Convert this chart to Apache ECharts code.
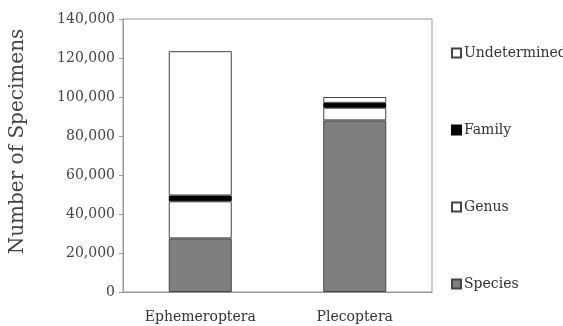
<!DOCTYPE html>
<html>
<head>
<meta charset="utf-8">
<script src="https://cdn.jsdelivr.net/npm/echarts@6/dist/echarts.min.js"></script>
<style>html,body{margin:0;padding:0;background:#fff;}#c{width:563px;height:326px;}</style>
</head>
<body>
<div id="c"></div>
<script>
const categories = ['Ephemeroptera', 'Plecoptera'];
const species = [27500, 88000];
const genus = [19000, 6500];
const family = [3000, 2500];
const undetermined = [74000, 3000];
const legendOrder = ['Undetermined', 'Family', 'Genus', 'Species'];

const FONT = 'DejaVu Serif';
const chart = echarts.init(document.getElementById('c'), null, {renderer: 'canvas'});
function bar(name, data, color, border) {
  return {
    name: name, type: 'bar', stack: 'total', data: data, barWidth: 63,
    itemStyle: {color: color, borderColor: border, borderWidth: 1},
    emphasis: {disabled: true}
  };
}
chart.setOption({
  animation: false,
  backgroundColor: '#fff',
  grid: {left: 123, right: 131, top: 19, bottom: 34, show: true, borderColor: '#999', borderWidth: 1,
    containLabel: false, outerBoundsMode: 'none'},
  legend: {
    orient: 'vertical', left: 446, top: 41, itemGap: 63,
    itemWidth: 9, itemHeight: 9, icon: 'rect',
    data: legendOrder,
    textStyle: {fontFamily: FONT, fontSize: 14, color: '#333', lineHeight: 14, padding: [0,0,0,-2]}
  },
  xAxis: {
    type: 'category', data: categories,
    axisLine: {lineStyle: {color: '#999'}},
    axisTick: {show: false},
    axisLabel: {fontFamily: FONT, fontSize: 14, color: '#333', margin: 18}
  },
  yAxis: {
    type: 'value', min: 0, max: 140000, interval: 20000,
    name: 'Number of Specimens', nameLocation: 'middle', nameGap: 95,
    nameTextStyle: {fontFamily: FONT, fontSize: 20, color: '#444', padding: [0, 0, 0, 28]},
    axisLine: {show: true, lineStyle: {color: '#999'}},
    axisTick: {show: true, length: 4, lineStyle: {color: '#999'}},
    splitLine: {show: false},
    axisLabel: {fontFamily: FONT, fontSize: 14, color: '#444', margin: 8,
      formatter: v => v.toLocaleString('en-US')}
  },
  series: [
    bar('Species', species, '#7f7f7f', '#444'),
    bar('Genus', genus, '#ffffff', '#444'),
    bar('Family', family, '#000000', '#000'),
    bar('Undetermined', undetermined, '#ffffff', '#444')
  ]
});
</script>
</body>
</html>
